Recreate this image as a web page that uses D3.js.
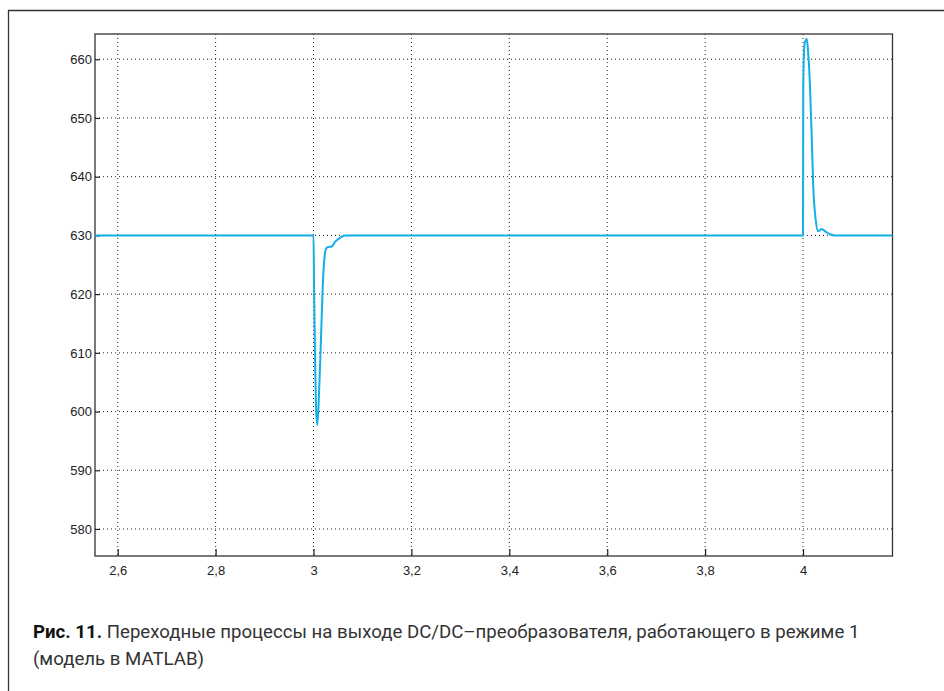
<!DOCTYPE html>
<html><head><meta charset="utf-8">
<script src="https://cdn.jsdelivr.net/npm/d3@7"></script>
<style>html,body{margin:0;padding:0;background:#fff;} svg{display:block;}</style>
</head><body>
<svg id="chart" width="944" height="691"></svg>
<script>
// ---- data ----
const xTicks = [2.6, 2.8, 3.0, 3.2, 3.4, 3.6, 3.8, 4.0];
const xTickLabels = ["2,6", "2,8", "3", "3,2", "3,4", "3,6", "3,8", "4"];
const yTicks = [580, 590, 600, 610, 620, 630, 640, 650, 660];
const yTickLabels = ["580", "590", "600", "610", "620", "630", "640", "650", "660"];
const xDomain = [2.5536, 4.1828];
const yDomain = [575.4, 664.3];
const timeS = [2.5536, 3.0000, 3.0010, 3.0030, 3.0050, 3.0078, 3.0112, 3.0147, 3.0188, 3.0235, 3.0270, 3.0302, 3.0372, 3.0439, 3.0541, 3.0644, 3.0700,
               4.0000, 4.0005, 4.0030, 4.0076, 4.0102, 4.0143, 4.0178, 4.0210, 4.0260, 4.0310, 4.0345, 4.0380, 4.0450, 4.0550, 4.0650, 4.1828];
const voltage = [630.0, 630.0, 622.0, 610.0, 601.0, 597.7, 603.0, 611.0, 621.2, 627.0, 627.9, 628.0, 628.1, 628.9, 629.6, 630.0, 630.0,
                 630.0, 655.0, 662.5, 663.5, 661.5, 655.3, 646.7, 638.2, 632.6, 630.7, 630.9, 631.1, 630.7, 630.2, 630.0, 630.0];
const captionBold = "Рис. 11.";
const captionRest = " Переходные процессы на выходе DC/DC–преобразователя, работающего в режиме 1";
const captionLine2 = "(модель в MATLAB)";

// ---- layout ----
const svg = d3.select("#chart");
const L = 95, T = 34, R = 892.5, B = 556;
const x = d3.scaleLinear().domain(xDomain).range([L, R]);
const y = d3.scaleLinear().domain(yDomain).range([B, T]);

// outer frame (open right/bottom)
svg.append("path").attr("d", "M8.5,691 L8.5,10.5 L944,10.5")
  .attr("fill", "none").attr("stroke", "#333").attr("stroke-width", 1.3);

// grid
const g = svg.append("g");
g.selectAll(".gx").data(xTicks).join("line")
  .attr("x1", d => x(d)).attr("x2", d => x(d)).attr("y1", T).attr("y2", B)
  .attr("stroke", "#222").attr("stroke-width", 1).attr("stroke-dasharray", "1,3");
g.selectAll(".gy").data(yTicks).join("line")
  .attr("y1", d => y(d)).attr("y2", d => y(d)).attr("x1", L).attr("x2", R)
  .attr("stroke", "#222").attr("stroke-width", 1).attr("stroke-dasharray", "1,3");

// axes (inward ticks)
const xAxis = d3.axisBottom(x).tickValues(xTicks).tickSizeInner(-7).tickSizeOuter(0)
  .tickPadding(10).tickFormat((d, i) => xTickLabels[i]);
const yAxis = d3.axisLeft(y).tickValues(yTicks).tickSizeInner(-5).tickSizeOuter(0)
  .tickPadding(3).tickFormat((d, i) => yTickLabels[i]);
const gx = svg.append("g").attr("transform", `translate(0,${B})`).call(xAxis);
const gy = svg.append("g").attr("transform", `translate(${L},0)`).call(yAxis);
[gx, gy].forEach(a => {
  a.select(".domain").remove();
  a.selectAll("line").attr("stroke", "#222").attr("stroke-width", 1.2);
  a.selectAll("text").attr("font-family", "'Liberation Sans', Arial, sans-serif")
    .attr("font-size", 13).attr("fill", "#222");
});

// box
svg.append("rect").attr("x", L).attr("y", T).attr("width", R - L).attr("height", B - T)
  .attr("fill", "none").attr("stroke", "#333").attr("stroke-width", 1.3);

// line
const pts = timeS.map((t, i) => [t, voltage[i]]);
const line = d3.line().x(d => x(d[0])).y(d => y(d[1])).curve(d3.curveMonotoneX);
svg.append("path").datum(pts).attr("d", line)
  .attr("fill", "none").attr("stroke", "#14aee8").attr("stroke-width", 2)
  .attr("stroke-linejoin", "round");

// caption
const cap = svg.append("text").attr("x", 33).attr("y", 638.5)
  .attr("font-family", "Roboto, 'Noto Sans', sans-serif").attr("font-size", 18).attr("fill", "#333");
cap.append("tspan").attr("font-weight", "bold").attr("fill", "#111").text(captionBold);
cap.append("tspan").text(captionRest);
const cap2 = svg.append("text").attr("x", 33).attr("y", 665.5)
  .attr("font-family", "Roboto, 'Noto Sans', sans-serif").attr("font-size", 18).attr("fill", "#333")
  .text(captionLine2);
function fit(sel, target) {
  const w = sel.node().getComputedTextLength();
  const s = target / w;
  sel.attr("transform", `translate(33,0) scale(${s},1) translate(-33,0)`);
  return s;
}
const s1 = fit(cap, 827);
cap2.attr("transform", `translate(33,0) scale(${s1},1) translate(-33,0)`);
</script>
</body></html>
